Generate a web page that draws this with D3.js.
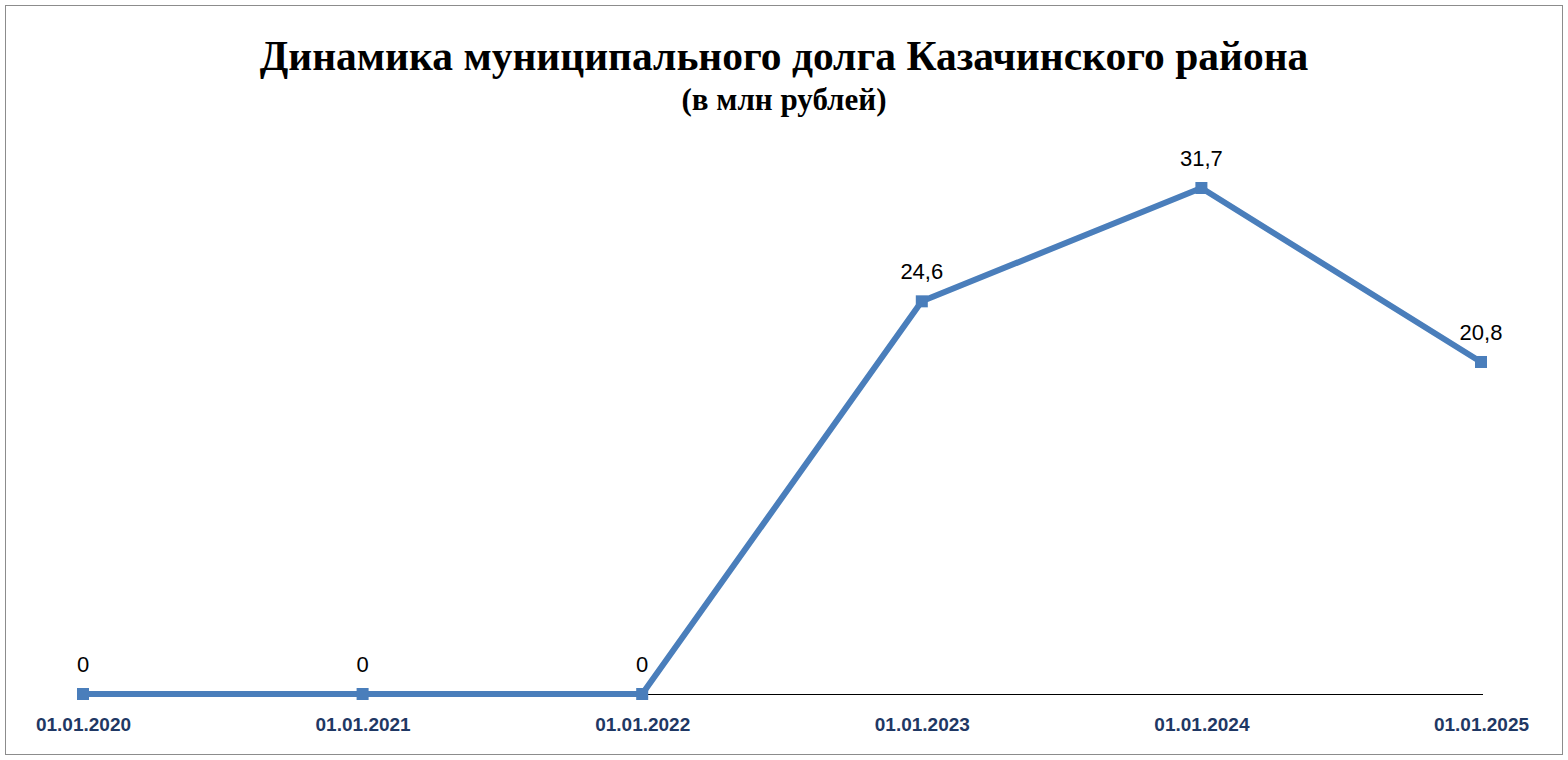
<!DOCTYPE html>
<html>
<head>
<meta charset="utf-8">
<script src="https://cdn.jsdelivr.net/npm/d3@7"></script>
<style>
  body { margin: 0; background: #fff; }
  svg { display: block; }
</style>
</head>
<body>
<svg width="1568" height="760"></svg>
<script>
const dates = ["01.01.2020", "01.01.2021", "01.01.2022", "01.01.2023", "01.01.2024", "01.01.2025"];
const debt = [0, 0, 0, 24.6, 31.7, 20.8];
const title = "Динамика муниципального долга Казачинского района";
const subtitle = "(в млн рублей)";

const svg = d3.select("svg");

svg.append("rect")
  .attr("x", 5.5).attr("y", 5.5)
  .attr("width", 1557).attr("height", 749)
  .attr("fill", "#fff").attr("stroke", "#8c8c8c");

const x = d3.scalePoint().domain(dates).range([83, 1481]);
const y = d3.scaleLinear().domain([0, 31.7]).range([694, 188]);

svg.append("text")
  .attr("x", 784).attr("y", 70)
  .attr("text-anchor", "middle")
  .attr("font-family", "Liberation Serif, Times New Roman, serif")
  .attr("font-weight", "bold").attr("font-size", 41.5)
  .text(title);

svg.append("text")
  .attr("x", 784).attr("y", 110)
  .attr("text-anchor", "middle")
  .attr("font-family", "Liberation Serif, Times New Roman, serif")
  .attr("font-weight", "bold").attr("font-size", 31)
  .text(subtitle);

// x axis
const axis = svg.append("g")
  .attr("transform", "translate(0,694)")
  .call(d3.axisBottom(x).tickSize(0).tickPadding(24));
axis.select(".domain").attr("d", "M83,0.5H1483").attr("stroke", "#000");
axis.selectAll("text")
  .attr("font-family", "Liberation Sans, Arial, sans-serif")
  .attr("font-weight", "bold").attr("font-size", 19)
  .attr("fill", "#1f3864");

const pts = dates.map((d, i) => ({ d, v: debt[i] }));

svg.append("path")
  .datum(pts)
  .attr("fill", "none")
  .attr("stroke", "#4a7ebb")
  .attr("stroke-width", 6)
  .attr("stroke-linejoin", "round")
  .attr("d", d3.line().x(p => x(p.d)).y(p => y(p.v)));

svg.selectAll(".mk").data(pts).join("rect")
  .attr("x", p => x(p.d) - 6).attr("y", p => y(p.v) - 6)
  .attr("width", 12).attr("height", 12)
  .attr("fill", "#4a7ebb");

svg.selectAll(".lbl").data(pts).join("text")
  .attr("x", p => x(p.d)).attr("y", p => y(p.v) - 22)
  .attr("text-anchor", "middle")
  .attr("font-family", "Liberation Sans, Arial, sans-serif")
  .attr("font-size", 22)
  .text(p => String(p.v).replace(".", ","));
</script>
</body>
</html>
